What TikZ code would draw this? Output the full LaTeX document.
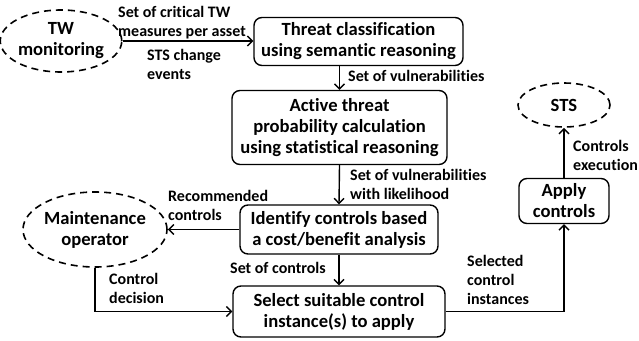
\documentclass[tikz,border=0pt]{standalone}
\usepackage{fontspec}
\setmainfont{Carlito}[Ligatures=NoCommon]
\usetikzlibrary{arrows.meta,shapes.geometric}
\begin{document}
\begin{tikzpicture}[x=1pt,y=-1pt,
  font=\bfseries,
  stepbox/.style={draw, line width=1.4pt, rounded corners=8pt, align=center,
    inner sep=0pt, font=\bfseries\fontsize{18.6}{21}\selectfont},
  actor/.style={draw, ellipse, dashed, dash pattern=on 7pt off 5pt, line width=1.6pt,
    align=center, inner sep=0pt, font=\bfseries\fontsize{18.6}{21}\selectfont},
  lbl/.style={anchor=west, align=left, inner sep=0pt, font=\bfseries\fontsize{16}{19}\selectfont},
  flow/.style={line width=1.4pt, -{Straight Barb[length=5pt,width=10pt,line width=1.4pt]}}
]
\useasboundingbox (0,0) rectangle (639,340);

% actors
\node[actor, minimum width=108pt, minimum height=62pt] (tw) at (61,41) {TW\\monitoring};
\node[actor, minimum width=144pt, minimum height=75pt] (maint) at (95,229.5) {Maintenance\\operator};
\node[actor, minimum width=92pt, minimum height=44pt] (sts) at (564,105) {STS};

% processing steps
\node[stepbox, minimum width=209pt, minimum height=48pt] (threat) at (358.5,41.5)
  {Threat classification\\using semantic reasoning};
\node[stepbox, minimum width=215pt, minimum height=74pt] (active) at (339.5,127.5)
  {Active threat\\probability calculation\\using statistical reasoning};
\node[stepbox, minimum width=198pt, minimum height=49pt] (ident) at (339,229.5)
  {Identify controls based\\a cost/benefit analysis};
\node[stepbox, minimum width=212pt, minimum height=51pt] (select) at (339,311.5)
  {Select suitable control\\instance(s) to apply};
\node[stepbox, minimum width=90pt, minimum height=45pt] (apply) at (564,201)
  {Apply\\controls};

% flows
\draw[flow] (tw.east) -- (tw.east -| threat.west);
\draw[flow] (active.north |- threat.south) -- (active.north);
\draw[flow] (active.south) -- (ident.north);
\draw[flow] (ident.south) -- (select.north);
\draw[flow] (ident.west) -- (maint.east);
\draw[flow] (maint.south) |- (select.west);
\draw[flow] (select.east) -| (apply.south);
\draw[flow] (apply.north) -- (sts.south);

% flow labels
\node[lbl] (l1) at (118,22.5) {Set of critical TW\\measures per asset};
\node[lbl] (l2) at (147,64.5) {STS change\\events};
\node[lbl] (l3) at (348,76) {Set of vulnerabilities};
\node[lbl] (l4) at (350,184) {Set of vulnerabilities\\with likelihood};
\node[lbl] (l5) at (168,205) {Recommended\\controls};
\node[lbl] (l6) at (230,268) {Set of controls};
\node[lbl] (l7) at (109,288.5) {Control\\decision};
\node[lbl] (l8) at (467,279.5) {Selected\\control\\instances};
\node[lbl] (l9) at (573,155) {Controls\\execution};
\end{tikzpicture}
\end{document}
